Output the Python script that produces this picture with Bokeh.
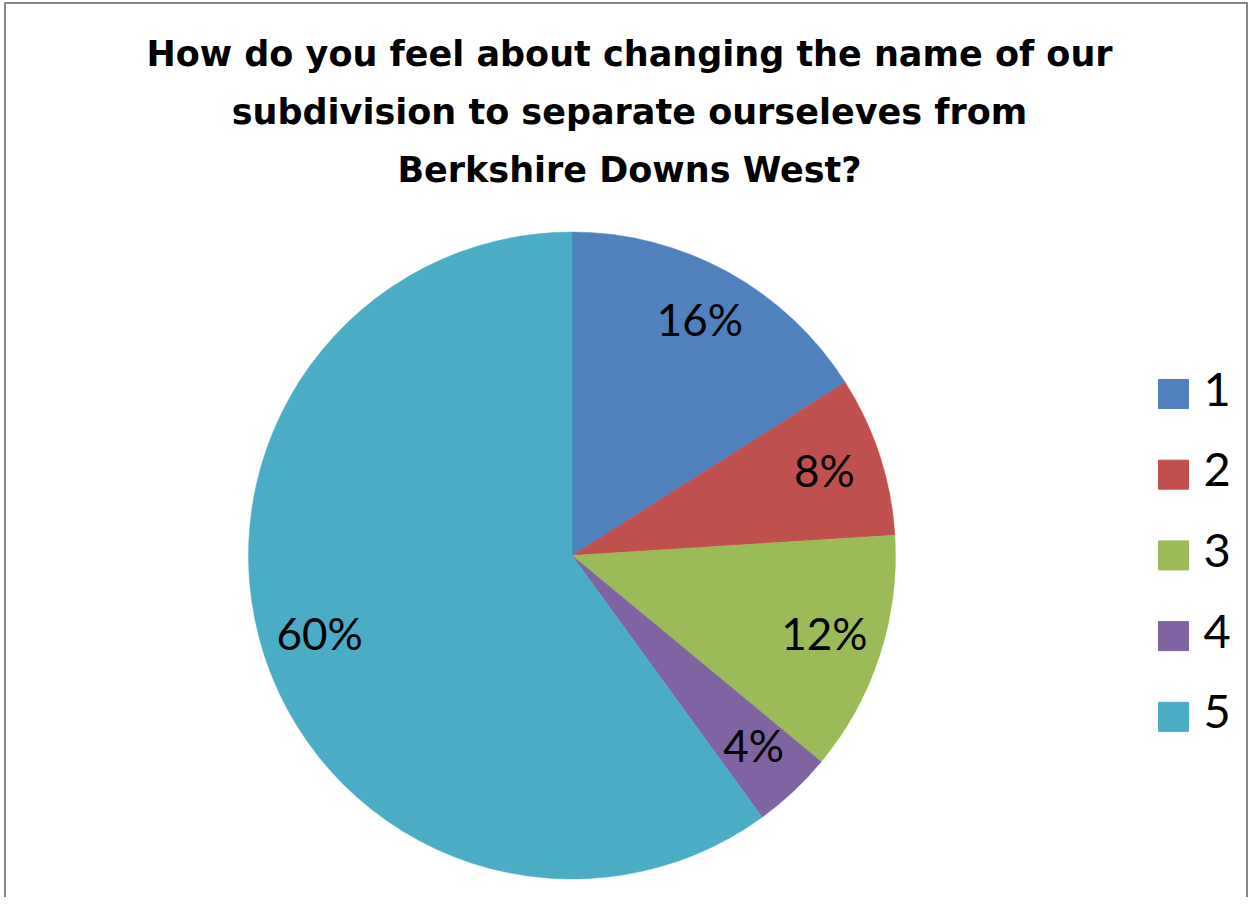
import math
from bokeh.plotting import figure
from bokeh.models import Range1d, ColumnDataSource
from bokeh.core.properties import value
from bokeh.embed import file_html
from bokeh.resources import INLINE

# ---- data ----
categories = ["1", "2", "3", "4", "5"]
percents = [16, 8, 12, 4, 60]
colors = ["#4F81BD", "#C0504D", "#9BBB59", "#8064A2", "#4BACC6"]
title_lines = [
    "How do you feel about changing the name of our",
    "subdivision to separate ourseleves from",
    "Berkshire Downs West?",
]

# ---- layout (image pixel coordinates, y measured downward) ----
W, H = 1248, 897
def Y(py):
    return H - py  # convert image y (down) to data y (up)

cx, cy, R = 571.5, Y(555), 323.5
FONT = "Lato"
TITLE_FONT = "DejaVu Sans"

p = figure(width=W, height=H, output_backend="svg", toolbar_location=None,
           x_range=Range1d(0, W), y_range=Range1d(0, H),
           min_border=0, x_axis_location=None, y_axis_location=None)
p.grid.visible = False
p.outline_line_color = None
p.background_fill_color = "white"
p.border_fill_color = "white"

# ---- pie ----
total = sum(percents)
starts, ends, mids = [], [], []
cum = 0.0
for v in percents:
    a0 = math.pi / 2 - 2 * math.pi * cum / total
    cum += v
    a1 = math.pi / 2 - 2 * math.pi * cum / total
    starts.append(a0)
    ends.append(a1)
    mids.append((a0 + a1) / 2)

src = ColumnDataSource(dict(start=starts, end=ends, color=colors,
                            label=[f"{v}%" for v in percents],
                            lx=[cx + 0.82 * R * math.cos(m) for m in mids],
                            ly=[cy + 0.82 * R * math.sin(m) + 4 for m in mids]))
p.wedge(x=cx, y=cy, radius=R, start_angle="start", end_angle="end",
        direction="clock", fill_color="color", line_color="color",
        line_width=0.5, source=src)
p.text(x="lx", y="ly", text="label", source=src, text_align="center",
       text_baseline="middle", text_font=value(FONT), text_font_size="44px",
       text_color="black")

# ---- title ----
p.text(x=[629] * len(title_lines), y=[Y(53.5), Y(111.5), Y(169.5)], text=title_lines,
       text_align="center", text_baseline="alphabetic",
       text_font=value(TITLE_FONT), text_font_style="bold", text_font_size="35px",
       text_color="black")

# ---- legend ----
leg_y = [393.5 + 80.7 * i for i in range(len(categories))]
p.rect(x=[1173] * len(categories), y=[Y(v) for v in leg_y], width=30, height=29,
       fill_color=colors, line_color=colors)
p.text(x=[1203] * len(categories), y=[Y(v) + 5 for v in leg_y], text=categories,
       text_align="left", text_baseline="middle", text_font=value(FONT),
       text_font_size="47px", text_color="black")

# ---- chart border (left, top, right) ----
p.multi_line(xs=[[4.5, 4.5], [4, 1247], [1246.5, 1246.5]],
             ys=[[0, Y(2)], [Y(2.5), Y(2.5)], [Y(2), 0]],
             line_color="#868686", line_width=2)

open("out.html", "w").write(file_html(p, INLINE))
